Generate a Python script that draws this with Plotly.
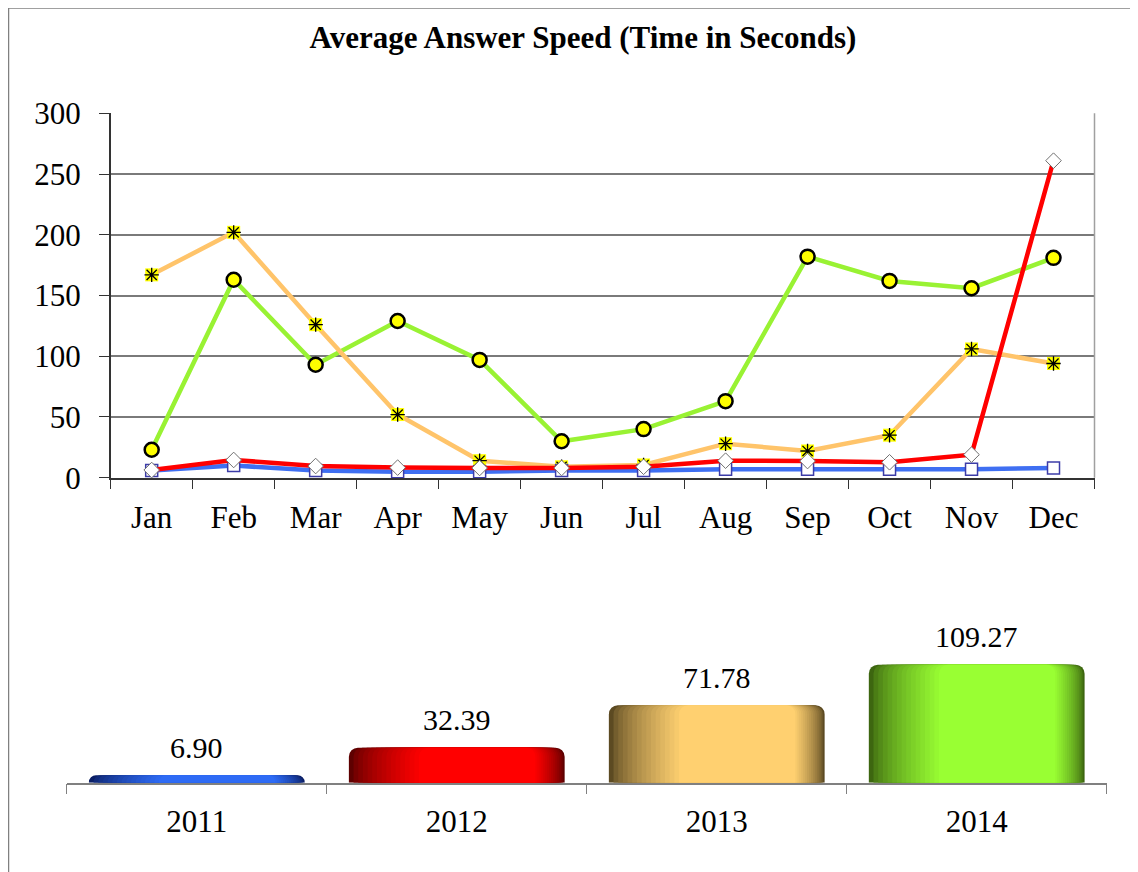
import plotly.graph_objects as go

months = ["Jan", "Feb", "Mar", "Apr", "May", "Jun", "Jul", "Aug", "Sep", "Oct", "Nov", "Dec"]
s2011 = [6, 10, 6, 5, 5, 6, 6, 7, 7, 7, 7, 8]
s2012 = [6.3, 14.6, 9.6, 8.3, 8, 8, 9, 14, 13.7, 12.7, 19, 261]
s2013 = [167, 202, 126, 52, 14, 9, 10.5, 28, 22, 35, 106, 94]
s2014 = [23, 163, 93, 129, 97, 30, 40, 63, 182, 162, 156, 181]

years = ["2011", "2012", "2013", "2014"]
year_avg = [6.90, 32.39, 71.78, 109.27]

FONT = "Liberation Serif, Times New Roman, serif"
W, H = 1130, 864
OFF = 8  # page body margin


def px_x(p):
    return (p - OFF) / W


def px_y(p):
    return (H - (p - OFF)) / H


fig = go.Figure()

# ---- line chart ----
fig.add_trace(go.Scatter(
    x=months, y=s2014, mode="lines+markers", name="2014",
    line=dict(color="#99f233", width=4.5),
    marker=dict(symbol="circle", size=14, color="#ffff00", line=dict(color="black", width=2.5)),
    xaxis="x", yaxis="y", cliponaxis=False))
fig.add_trace(go.Scatter(
    x=months, y=s2013, mode="lines+markers", name="2013",
    line=dict(color="#ffc46a", width=4.5),
    marker=dict(symbol="square", size=13, color="#ffff00", line=dict(width=0)),
    xaxis="x", yaxis="y", cliponaxis=False))
fig.add_trace(go.Scatter(
    x=months, y=s2013, mode="markers", name="2013 marks", showlegend=False,
    marker=dict(symbol="asterisk", size=12, color="black", line=dict(color="black", width=1.3)),
    xaxis="x", yaxis="y", cliponaxis=False))
fig.add_trace(go.Scatter(
    x=months, y=s2011, mode="lines+markers", name="2011",
    line=dict(color="#3f6ff2", width=4.5),
    marker=dict(symbol="square", size=12, color="white", line=dict(color="#3c3ca8", width=1.5)),
    xaxis="x", yaxis="y", cliponaxis=False))
fig.add_trace(go.Scatter(
    x=months, y=s2012, mode="lines+markers", name="2012",
    line=dict(color="#ff0000", width=4.5),
    marker=dict(symbol="diamond", size=12, color="white", line=dict(color="#707070", width=1)),
    xaxis="x", yaxis="y", cliponaxis=False))

# ---- bar chart with simulated cylinder shading ----
dark = ["#0b1f66", "#5e0000", "#5c4a22", "#3d6610"]
base = ["#2e6bf5", "#ff0000", "#ffd070", "#99ff33"]


def hex2rgb(h):
    h = h.lstrip("#")
    return tuple(int(h[i:i + 2], 16) for i in (0, 2, 4))


def mix(a, b, t):
    ra, rb = hex2rgb(a), hex2rgb(b)
    return "rgb(%d,%d,%d)" % tuple(round(ra[i] + (rb[i] - ra[i]) * t) for i in range(3))


N = 16
half = 0.415
for k in range(N):
    t = (k / (N - 1)) ** 0.7
    left = -half + k * 0.018
    right = half - k * 0.0075
    fig.add_trace(go.Bar(
        x=years, y=year_avg, width=right - left, offset=left, showlegend=False,
        marker=dict(color=[mix(dark[i], base[i], t) for i in range(4)],
                    line=dict(width=0), cornerradius=9),
        xaxis="x2", yaxis="y2"))

for i, v in enumerate(year_avg):
    fig.add_annotation(x=i, y=v, xref="x2", yref="y2", text=f"{v:.2f}",
                       showarrow=False, yshift=28, yanchor="middle",
                       font=dict(family=FONT, size=30, color="black"))

fig.update_layout(
    width=W, height=H, margin=dict(l=0, r=0, t=0, b=0, autoexpand=False),
    paper_bgcolor="white", plot_bgcolor="white",
    showlegend=False, barmode="overlay",
    font=dict(family=FONT, color="black"),
    title=dict(text="<b>Average Answer Speed (Time in Seconds)</b>",
               x=px_x(583), y=px_y(37), xanchor="center", yanchor="middle",
               font=dict(family=FONT, size=31, color="black")),
    xaxis=dict(domain=[px_x(110.7), px_x(1094.5)], type="category",
               categoryorder="array", categoryarray=months, range=[-0.5, 11.5],
               tickson="boundaries", ticks="outside", ticklen=10, tickcolor="#333",
               showline=True, linecolor="#333", linewidth=1.5, showgrid=False,
               tickfont=dict(family=FONT, size=31), ticklabelstandoff=11,
               anchor="y", automargin=False),
    yaxis=dict(domain=[px_y(477.7), px_y(113.3)], range=[0, 300], dtick=50,
               showgrid=True, gridcolor="#7a7a7a", gridwidth=1.5, zeroline=False,
               showline=True, linecolor="#333", linewidth=1.5,
               ticks="outside", ticklen=10, tickcolor="#333",
               tickfont=dict(family=FONT, size=31), ticklabelstandoff=12,
               anchor="x", automargin=False),
    xaxis2=dict(domain=[px_x(66.8), px_x(1106.7)], type="category",
                categoryorder="array", categoryarray=years, range=[-0.5, 3.5],
                tickson="boundaries", ticks="outside", ticklen=10, tickcolor="#808080",
                showline=True, linecolor="#808080", linewidth=1.5, showgrid=False,
                tickfont=dict(family=FONT, size=31), ticklabelstandoff=10,
                anchor="y2", automargin=False),
    yaxis2=dict(domain=[px_y(782.7), px_y(782.7 - 140.4)], range=[0, 130],
                visible=False, anchor="x2", automargin=False),
    shapes=[
        dict(type="line", xref="x domain", yref="y domain", x0=1, x1=1, y0=0, y1=1,
             line=dict(color="#a0a0a0", width=1.5)),
        dict(type="line", xref="paper", yref="paper", x0=0, x1=1,
             y0=px_y(8), y1=px_y(8), line=dict(color="#808080", width=1.5)),
        dict(type="line", xref="paper", yref="paper", x0=px_x(8.5), x1=px_x(8.5),
             y0=0, y1=px_y(8), line=dict(color="#808080", width=1.5)),
    ],
)

fig.write_html("out.html")
